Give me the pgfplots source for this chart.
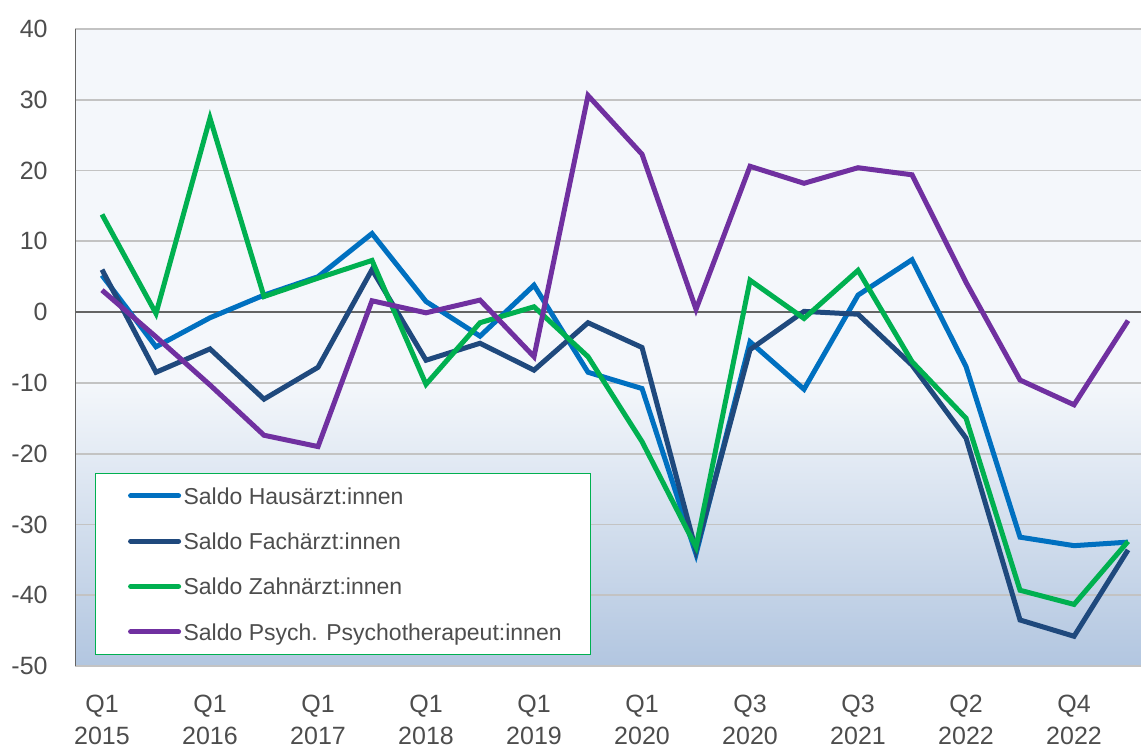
\documentclass[border=0pt]{standalone}
\usepackage{fontspec}
\setmainfont{Liberation Sans}
\usepackage{pgfplots}
\pgfplotsset{compat=1.18}
\usepackage{pgfplotstable}
\definecolor{hausc}{RGB}{0,112,192}
\definecolor{fachc}{RGB}{31,73,125}
\definecolor{zahnc}{RGB}{0,176,80}
\definecolor{psychc}{RGB}{112,48,160}
\definecolor{bgtop}{RGB}{244,247,251}
\definecolor{bgbot}{RGB}{178,198,224}
\definecolor{gridc}{RGB}{195,195,195}
\definecolor{axisc}{RGB}{100,100,100}
\definecolor{textc}{RGB}{77,77,77}

\pgfplotstableread{
i haus fach zahn psych
0 5.2 6.0 13.8 3.1
1 -4.9 -8.5 -0.2 -3.5
2 -0.8 -5.2 27.4 -10.3
3 2.4 -12.3 2.2 -17.4
4 5.0 -7.8 4.8 -19.0
5 11.1 6.0 7.3 1.6
6 1.5 -6.8 -10.2 -0.1
7 -3.4 -4.4 -1.5 1.7
8 3.8 -8.2 0.75 -6.3
9 -8.5 -1.5 -6.3 30.6
10 -10.8 -5.0 -18.3 22.3
11 -34.2 -33.7 -33.2 0.4
12 -4.2 -5.3 4.5 20.6
13 -10.9 0.1 -0.9 18.2
14 2.4 -0.3 5.9 20.4
15 7.4 -7.5 -7.0 19.4
16 -7.7 -17.8 -15.0 4.2
17 -31.8 -43.5 -39.3 -9.6
18 -33.0 -45.8 -41.3 -13.1
19 -32.5 -33.6 -32.4 -1.2
}\data

\begin{document}
\begin{tikzpicture}
\begin{axis}[
  set layers,
  scale only axis, width=533pt, height=318.5pt,
  at={(0pt,0pt)}, anchor=south west,
  xmin=-0.5, xmax=19.24, ymin=-50, ymax=40,
  xtick={0,2,...,18},
  xticklabels={{Q1\\2015},{Q1\\2016},{Q1\\2017},{Q1\\2018},{Q1\\2019},{Q1\\2020},{Q3\\2020},{Q3\\2021},{Q2\\2022},{Q4\\2022}},
  ytick={-50,-40,...,40},
  ymajorgrids, grid style={gridc, line width=0.9pt},
  axis line style={draw=none},
  major tick length=0pt,
  tick label style={font=\fontsize{12.5}{16}\selectfont, text=textc},
  xticklabel style={align=center, anchor=north, inner sep=0pt, yshift=-14.5pt},
  yticklabel style={anchor=east, inner sep=0pt, xshift=-13.5pt},
  /pgf/number format/assume math mode=true,
  legend style={at={(axis description cs:0,0)}, anchor=south west, xshift=10pt, yshift=5.5pt,
    draw=zahnc, line width=0.6pt, fill=white, inner xsep=0pt, inner ysep=0pt,
    row sep=0pt, column sep=0pt, font=\fontsize{11.5}{14}\selectfont,
    nodes={inner sep=0pt, text height=15.58pt, text depth=7.08pt, text=textc}},
  legend cell align=left,
  legend image code/.code={\path[draw=none, fill=none] (-17.5pt,0pt) -- (26.5pt,0pt);
    \draw[line width=2.5pt, line cap=round] (0pt,0pt) -- (24pt,0pt);},
]
\begin{pgfonlayer}{axis background}
\fill[bgtop] (rel axis cs:0,0.4444) rectangle (rel axis cs:1,1);
\shade[top color=bgtop, bottom color=bgbot] (rel axis cs:0,0) rectangle (rel axis cs:1,0.4444);
\end{pgfonlayer}
\draw[axisc, line width=1pt] (axis cs:-0.5,0) -- (axis cs:19.24,0);
\draw[axisc, line width=1pt] (rel axis cs:0,0) -- (rel axis cs:0,1);

\addplot[hausc, line width=2.5pt] table[x=i,y=haus]{\data};
\addlegendentry{Saldo Hausärzt:innen}
\addplot[fachc, line width=2.5pt] table[x=i,y=fach]{\data};
\addlegendentry{Saldo Fachärzt:innen}
\addplot[zahnc, line width=2.5pt] table[x=i,y=zahn]{\data};
\addlegendentry{Saldo Zahnärzt:innen}
\addplot[psychc, line width=2.5pt] table[x=i,y=psych]{\data};
\addlegendentry{Saldo Psych. Psychotherapeut:innen\hspace*{14.5pt}}
\end{axis}
\pgfresetboundingbox
\path[use as bounding box] (-37.5pt,-40.5pt) rectangle (533pt,333pt);
\end{tikzpicture}
\end{document}
